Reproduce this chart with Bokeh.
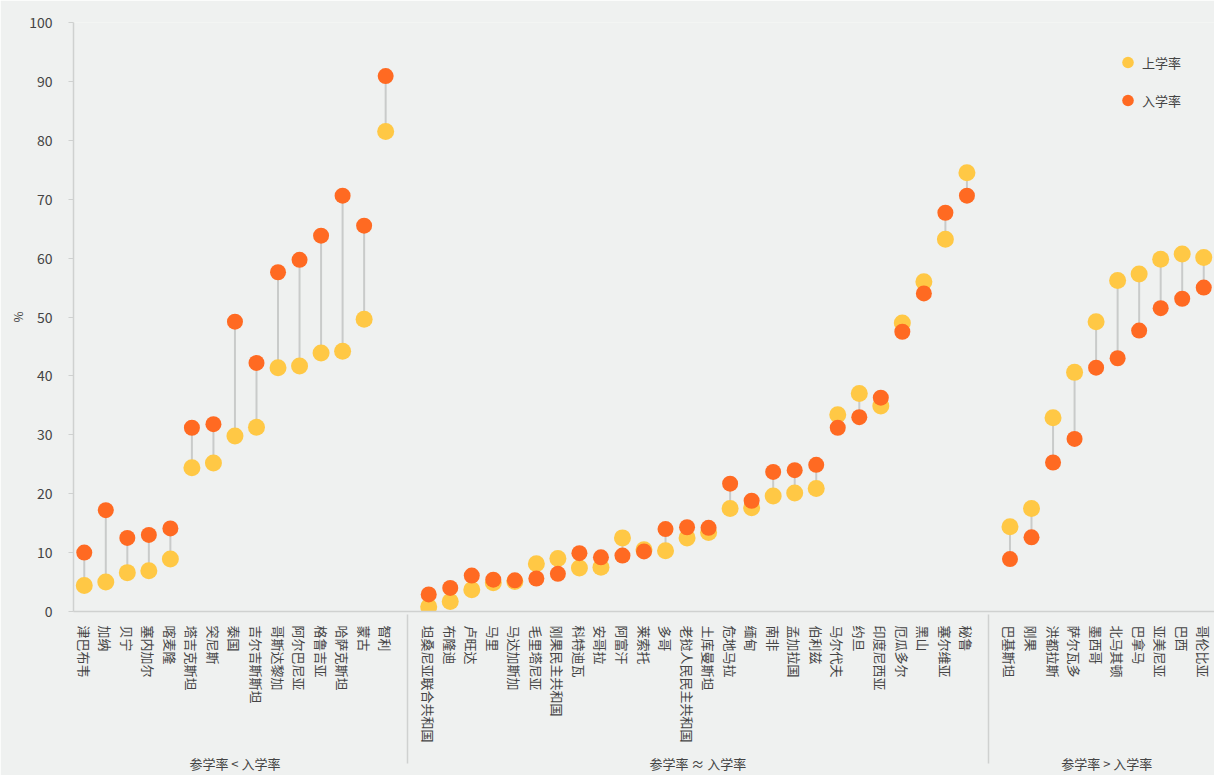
import math
from bokeh.plotting import figure
from bokeh.models import FactorRange, ColumnDataSource, Legend, LegendItem, SingleIntervalTicker
from bokeh.embed import file_html
from bokeh.resources import INLINE

# ---------------- data ----------------
group_names = ["参学率 < 入学率", "参学率 ≈ 入学率", "参学率 > 入学率"]

countries_lt = ["津巴布韦", "加纳", "贝宁", "塞内加尔", "喀麦隆", "塔吉克斯坦", "突尼斯", "泰国",
                "吉尔吉斯斯坦", "哥斯达黎加", "阿尔巴尼亚", "格鲁吉亚", "哈萨克斯坦", "蒙古", "智利"]
attend_lt = [4.4, 5.0, 6.6, 6.9, 8.9, 24.4, 25.2, 29.8, 31.3, 41.4, 41.7, 43.9, 44.2, 49.6, 81.5]
enrol_lt = [10.0, 17.2, 12.5, 13.0, 14.1, 31.2, 31.8, 49.2, 42.2, 57.6, 59.7, 63.8, 70.6, 65.5, 90.9]

countries_eq = ["坦桑尼亚联合共和国", "布隆迪", "卢旺达", "马里", "马达加斯加", "毛里塔尼亚",
                "刚果民主共和国", "科特迪瓦", "安哥拉", "阿富汗", "莱索托", "多哥",
                "老挝人民民主共和国", "土库曼斯坦", "危地马拉", "缅甸", "南非", "孟加拉国",
                "伯利兹", "马尔代夫", "约旦", "印度尼西亚", "厄瓜多尔", "黑山", "塞尔维亚", "秘鲁"]
attend_eq = [0.8, 1.7, 3.7, 4.9, 5.1, 8.1, 9.0, 7.4, 7.5, 12.5, 10.5, 10.3, 12.5, 13.4,
             17.5, 17.6, 19.6, 20.1, 20.9, 33.4, 37.0, 34.9, 49.0, 56.0, 63.2, 74.5]
enrol_eq = [2.9, 4.0, 6.1, 5.4, 5.3, 5.6, 6.4, 9.9, 9.2, 9.5, 10.2, 14.0, 14.3, 14.2,
            21.7, 18.8, 23.7, 24.0, 24.9, 31.2, 33.0, 36.3, 47.5, 54.0, 67.7, 70.6]

countries_gt = ["巴基斯坦", "刚果", "洪都拉斯", "萨尔瓦多", "墨西哥", "北马其顿", "巴拿马",
                "亚美尼亚", "巴西", "哥伦比亚"]
attend_gt = [14.4, 17.5, 32.9, 40.6, 49.2, 56.2, 57.3, 59.8, 60.7, 60.1]
enrol_gt = [8.9, 12.6, 25.3, 29.3, 41.4, 43.0, 47.7, 51.5, 53.1, 55.0]

y_ticks_interval = 10
legend_labels = ["上学率", "入学率"]

# ---------------- build ----------------
groups = [
    (group_names[0], countries_lt, attend_lt, enrol_lt),
    (group_names[1], countries_eq, attend_eq, enrol_eq),
    (group_names[2], countries_gt, attend_gt, enrol_gt),
]
factors, att, enr = [], [], []
for g, cs, a, e in groups:
    for c, av, ev in zip(cs, a, e):
        factors.append((g, c))
        att.append(av)
        enr.append(ev)

src = ColumnDataSource(dict(x=factors, att=att, enr=enr))

BG = "#eff1f0"
YELLOW = "#ffc845"
ORANGE = "#ff6a22"
GREY_LINE = "#cfd1d0"
TEXT = "#444444"
FONT = "Noto Sans CJK SC"

p = figure(
    x_range=FactorRange(*factors, group_padding=1.0, factor_padding=0.0, range_padding=0.0),
    y_range=(0, 100),
    width=1214, height=775,
    output_backend="svg", toolbar_location=None,
    background_fill_color=BG, border_fill_color=BG,
    outline_line_color=None,
)
p.min_border_left = 73
p.min_border_right = 0
p.min_border_top = 22
p.min_border_bottom = 0
p.xgrid.visible = False
p.ygrid.visible = False

p.segment(x0="x", y0="att", x1="x", y1="enr", source=src, line_color="#c9cbca", line_width=2)
r_att = p.scatter("x", "att", source=src, size=17, fill_color=YELLOW, line_color=None)
r_enr = p.scatter("x", "enr", source=src, size=16, fill_color=ORANGE, line_color=None)

# y axis
ya = p.yaxis[0]
ya.ticker = SingleIntervalTicker(interval=y_ticks_interval)
ya.minor_tick_line_color = None
ya.axis_line_color = GREY_LINE
ya.axis_line_width = 1.5
ya.major_tick_line_color = GREY_LINE
ya.major_tick_out = 5
ya.major_tick_in = 0
ya.major_label_standoff = 16
ya.major_label_text_font = FONT
ya.major_label_text_font_size = "14px"
ya.major_label_text_color = TEXT
ya.axis_label = "%"
ya.axis_label_text_font = FONT
ya.axis_label_text_font_size = "12px"
ya.axis_label_text_font_style = "normal"
ya.axis_label_text_color = TEXT
ya.axis_label_standoff = 0

# x axis
xa = p.xaxis[0]
xa.axis_line_color = GREY_LINE
xa.axis_line_width = 1.5
xa.major_tick_line_color = None
xa.minor_tick_line_color = None
xa.major_label_standoff = 8
xa.major_label_orientation = -math.pi / 2
xa.major_label_text_font = FONT
xa.major_label_text_font_size = "13px"
xa.major_label_text_color = TEXT
xa.group_text_font = FONT
xa.group_text_font_size = "13px"
xa.group_text_color = TEXT
xa.group_text_font_style = "normal"
xa.separator_line_color = GREY_LINE
xa.separator_line_width = 1.5

legend = Legend(
    items=[LegendItem(label=legend_labels[0], renderers=[r_att]),
           LegendItem(label=legend_labels[1], renderers=[r_enr])],
    location=(1040, 492),
    background_fill_alpha=0, border_line_color=None,
    glyph_width=29, glyph_height=38, label_standoff=0, spacing=0,
    label_text_font=FONT, label_text_font_size="13px", label_text_color=TEXT,
    margin=0, padding=4,
)
p.add_layout(legend)

open("out.html", "w").write(file_html(p, INLINE))
